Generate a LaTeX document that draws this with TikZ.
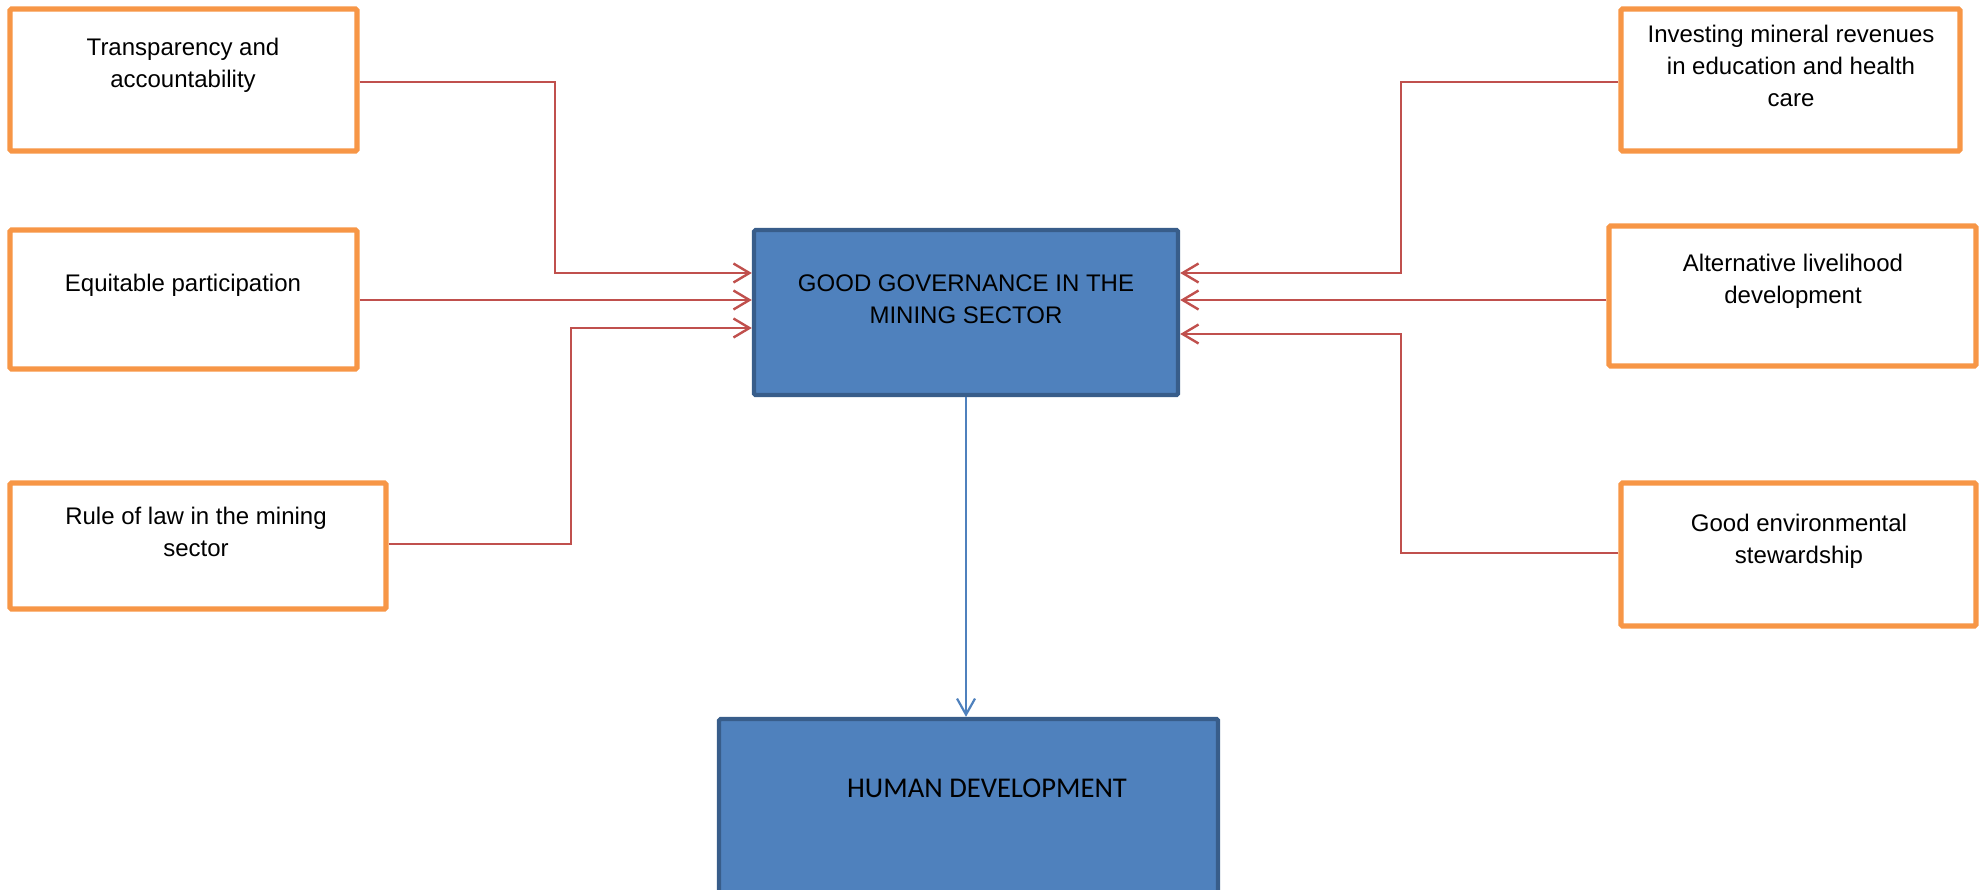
\documentclass[tikz,border=0pt]{standalone}
\usepackage{fontspec}
\setmainfont{Liberation Sans}
\newfontfamily\calibrifont{Carlito}
\usetikzlibrary{arrows.meta,fit}
\definecolor{borange}{HTML}{F79646}
\definecolor{bfill}{HTML}{4F81BD}
\definecolor{bdark}{HTML}{385D8A}
\definecolor{rline}{HTML}{C0504D}
\tikzset{
  obox/.style={draw=borange, line width=2.6pt, fill=white, inner sep=0pt, rounded corners=0.8pt},
  bbox/.style={draw=bdark, line width=2.2pt, fill=bfill, inner sep=0pt, rounded corners=0.8pt},
  txt/.style={align=center, inner sep=0pt, font=\fontsize{12}{16}\selectfont},
  redcon/.style={draw=rline, line width=1.2pt, -{Straight Barb[length=8pt,width=9.5pt]}},
  bluecon/.style={draw=bfill, line width=1.1pt, -{Straight Barb[length=8pt,width=9pt]}}
}
\begin{document}
\begin{tikzpicture}[x=0.5pt,y=-0.5pt]
\useasboundingbox (0,0) rectangle (1984,889);
% boxes
\node[obox, fit={(10,9) (357,151)}] (t) {};
\node[obox, fit={(10,230) (357,369)}] (e) {};
\node[obox, fit={(10,483) (386,609)}] (r) {};
\node[obox, fit={(1621,9) (1960,151)}] (i) {};
\node[obox, fit={(1609,226) (1976,366)}] (a) {};
\node[obox, fit={(1621,483) (1976,626)}] (g) {};
\node[bbox, fit={(754,230) (1178,395)}] (gg) {};
\node[bbox, fit={(719,719) (1218,900)}] (hd) {};
% texts
\node[txt] (tt) at (183,65) {Transparency and\\accountability};
\node[txt] (et) at (183,285) {Equitable participation};
\node[txt] (rt) at (196,532) {Rule of law in the mining\\sector};
\node[txt] (it) at (1791,66) {Investing mineral revenues\\in education and health\\care};
\node[txt] (at) at (1793,281) {Alternative livelihood\\development};
\node[txt] (gt) at (1799,541) {Good environmental\\stewardship};
\node[txt] (ggt) at (966,299) {GOOD GOVERNANCE IN THE\\MINING SECTOR};
\node[inner sep=0pt, font=\calibrifont\fontsize{14.3}{17}\selectfont] (hdt) at (987,788) {HUMAN DEVELOPMENT};
% connectors
\draw[redcon] (t.east |- 0,82) -| (555,273) -- (gg.west |- 0,273);
\draw[redcon] (e.east |- 0,300) -- (gg.west |- 0,300);
\draw[redcon] (r.east |- 0,544) -| (571,328) -- (gg.west |- 0,328);
\draw[redcon] (i.west |- 0,82) -| (1401,273) -- (gg.east |- 0,273);
\draw[redcon] (a.west |- 0,300) -- (gg.east |- 0,300);
\draw[redcon] (g.west |- 0,553) -| (1401,334) -- (gg.east |- 0,334);
\draw[bluecon] (gg.south) -- (hd.north -| gg.south);
\end{tikzpicture}
\end{document}
